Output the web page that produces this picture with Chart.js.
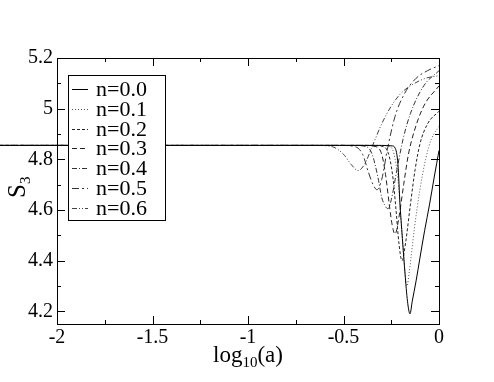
<!DOCTYPE html>
<html>
<head>
<meta charset="utf-8">
<script src="https://cdn.jsdelivr.net/npm/chart.js@4.4.0/dist/chart.umd.min.js"></script>
<style>
  html, body { margin: 0; padding: 0; background: #fff; }
  #wrap { width: 494px; height: 382px; }
</style>
</head>
<body>
<div id="wrap"><canvas id="grafico"></canvas></div>
<script>
// series labels
const labels = ["n=0.0", "n=0.1", "n=0.2", "n=0.3", "n=0.4", "n=0.5", "n=0.6"];

// log10(a) and S3, one pair of arrays per curve
const x00 = [-2.4, -0.30, -0.245, -0.23, -0.215, -0.204, -0.19, -0.178, -0.165, -0.152, -0.14, -0.12, -0.10, -0.075, -0.05, -0.025, 0];
const y00 = [4.855, 4.855, 4.853, 4.845, 4.78, 4.62, 4.47, 4.35, 4.24, 4.19, 4.24, 4.32, 4.41, 4.52, 4.62, 4.73, 4.835];
const x01 = [-2.4, -0.32, -0.26, -0.235, -0.215, -0.20, -0.185, -0.168, -0.155, -0.13, -0.10, -0.07, -0.04, 0];
const y01 = [4.855, 4.855, 4.85, 4.82, 4.72, 4.58, 4.42, 4.30, 4.36, 4.52, 4.68, 4.80, 4.88, 4.93];
const x02 = [-2.4, -0.36, -0.29, -0.26, -0.24, -0.225, -0.21, -0.194, -0.175, -0.15, -0.125, -0.10, -0.06, 0];
const y02 = [4.855, 4.855, 4.85, 4.81, 4.72, 4.60, 4.47, 4.40, 4.47, 4.62, 4.76, 4.86, 4.94, 4.99];
const x03 = [-2.4, -0.40, -0.33, -0.30, -0.28, -0.26, -0.245, -0.23, -0.21, -0.185, -0.16, -0.13, -0.08, 0];
const y03 = [4.855, 4.855, 4.85, 4.82, 4.74, 4.62, 4.54, 4.505, 4.57, 4.70, 4.82, 4.91, 5.01, 5.09];
const x04 = [-2.4, -0.45, -0.38, -0.35, -0.32, -0.30, -0.285, -0.267, -0.25, -0.22, -0.188, -0.15, -0.08, 0];
const y04 = [4.855, 4.855, 4.85, 4.82, 4.73, 4.65, 4.62, 4.605, 4.64, 4.76, 4.88, 4.98, 5.09, 5.15];
const x05 = [-2.4, -0.52, -0.44, -0.40, -0.37, -0.345, -0.325, -0.30, -0.27, -0.23, -0.18, -0.12, -0.06, 0];
const y05 = [4.855, 4.855, 4.85, 4.82, 4.75, 4.70, 4.68, 4.72, 4.84, 4.97, 5.06, 5.12, 5.15, 5.17];
const x06 = [-2.4, -0.65, -0.56, -0.50, -0.46, -0.424, -0.39, -0.35, -0.30, -0.25, -0.20, -0.15, -0.07, 0];
const y06 = [4.855, 4.855, 4.85, 4.82, 4.78, 4.756, 4.78, 4.85, 4.94, 5.01, 5.06, 5.09, 5.12, 5.13];

// tick values
const xTicks = [-2, -1.5, -1, -0.5, 0];
const xMinor = [-1.75, -1.25, -0.75, -0.25];
const yTicks = [4.2, 4.4, 4.6, 4.8, 5.0, 5.2];
const yMinor = [4.3, 4.5, 4.7, 4.9, 5.1];

const xs = [x00, x01, x02, x03, x04, x05, x06];
const ys = [y00, y01, y02, y03, y04, y05, y06];
const dashes = [[], [1, 2], [3, 2], [5, 3], [5, 2, 1, 2], [7, 3, 2, 3], [5, 2, 1, 2, 1, 2]];
const colores = ["#000", "#555", "#222", "#222", "#333", "#333", "#444"];

const SERIF = "'Liberation Serif', 'DejaVu Serif', serif";

const datasets = labels.map(function (lab, i) {
    return {
        label: lab,
        data: xs[i].map(function (v, k) { return { x: v, y: ys[i][k] }; }),
        borderColor: colores[i],
        borderWidth: 1,
        borderDash: dashes[i],
        pointRadius: 0,
        cubicInterpolationMode: "monotone",
        fill: false,
        clip: false
    };
});

function etiqueta(v) { return String(+Number(v).toFixed(2)); }

// frame, inward ticks, legend box and axis titles with subscripts
const marco = {
    id: "marco",
    afterDatasetsDraw(chart) {
        const c = chart.ctx;
        const a = chart.chartArea;
        const sx = chart.scales.x, sy = chart.scales.y;
        c.save();
        c.strokeStyle = "#000";
        c.lineWidth = 1;
        c.setLineDash([]);
        c.strokeRect(Math.round(a.left) + 0.5, Math.round(a.top) + 0.5,
            Math.round(a.right - a.left), Math.round(a.bottom - a.top));

        function tickX(v, len) {
            const p = Math.round(sx.getPixelForValue(v)) + 0.5;
            c.beginPath();
            c.moveTo(p, a.bottom); c.lineTo(p, a.bottom - len);
            c.moveTo(p, a.top); c.lineTo(p, a.top + len);
            c.stroke();
        }
        function tickY(v, len) {
            const p = Math.round(sy.getPixelForValue(v)) + 0.5;
            c.beginPath();
            c.moveTo(a.left, p); c.lineTo(a.left + len, p);
            c.moveTo(a.right, p); c.lineTo(a.right - len, p);
            c.stroke();
        }
        xTicks.forEach(function (v) { tickX(v, 8); });
        xMinor.forEach(function (v) { tickX(v, 4); });
        yTicks.forEach(function (v) { tickY(v, 8); });
        yMinor.forEach(function (v) { tickY(v, 4); });

        // legend
        const lx = 68, ly = 75, lw = 97, lh = 145;
        c.fillStyle = "#fff";
        c.fillRect(lx, ly, lw, lh);
        c.strokeRect(lx + 0.5, ly + 0.5, lw, lh);
        c.font = "22px " + SERIF;
        c.textBaseline = "middle";
        chart.data.datasets.forEach(function (ds, i) {
            const yy = Math.round(89 + i * 19.8) + 0.5;
            c.strokeStyle = ds.borderColor;
            c.setLineDash(ds.borderDash);
            c.beginPath();
            c.moveTo(72, yy); c.lineTo(88, yy);
            c.stroke();
            c.fillStyle = "#000";
            c.fillText(ds.label, 96, yy + 1);
        });
        c.setLineDash([]);

        // x title: log10(a)
        c.fillStyle = "#000";
        c.textBaseline = "alphabetic";
        const big = "23px " + SERIF, small = "15px " + SERIF;
        c.font = big;
        const w1 = c.measureText("log").width, w3 = c.measureText("(a)").width;
        c.font = small;
        const w2 = c.measureText("10").width;
        let x0 = (a.left + a.right) / 2 - (w1 + w2 + w3) / 2;
        const base = 362;
        c.font = big; c.fillText("log", x0, base);
        c.font = small; c.fillText("10", x0 + w1, base + 5);
        c.font = big; c.fillText("(a)", x0 + w1 + w2, base);

        // y title: S3
        c.translate(25, 187);
        c.rotate(-Math.PI / 2);
        c.font = "25px " + SERIF;
        const ws = c.measureText("S").width;
        c.fillText("S", -ws / 2 - 4, 0);
        c.font = small;
        c.fillText("3", ws / 2 - 4, 5);
        c.restore();
    }
};

new Chart(document.getElementById("grafico"), {
    type: "line",
    data: { datasets: datasets },
    options: {
        responsive: true,
        maintainAspectRatio: false,
        animation: false,
        layout: { padding: { left: 0, right: 55, top: 58, bottom: 0 } },
        scales: {
            x: {
                type: "linear",
                min: -2, max: 0,
                grid: { display: false },
                border: { display: false },
                afterFit: function (s) { s.height = 58; },
                afterBuildTicks: function (s) { s.ticks = xTicks.map(function (v) { return { value: v }; }); },
                ticks: { color: "#000", padding: -6, maxRotation: 0, callback: etiqueta, font: { family: SERIF, size: 20 } }
            },
            y: {
                type: "linear",
                min: 4.15, max: 5.2,
                grid: { display: false },
                border: { display: false },
                afterFit: function (s) { s.width = 57; },
                afterBuildTicks: function (s) { s.ticks = yTicks.map(function (v) { return { value: v }; }); },
                ticks: { color: "#000", padding: -4, callback: etiqueta, font: { family: SERIF, size: 20 } }
            }
        },
        plugins: {
            legend: { display: false },
            tooltip: { enabled: false }
        }
    },
    plugins: [marco]
});
</script>
</body>
</html>
